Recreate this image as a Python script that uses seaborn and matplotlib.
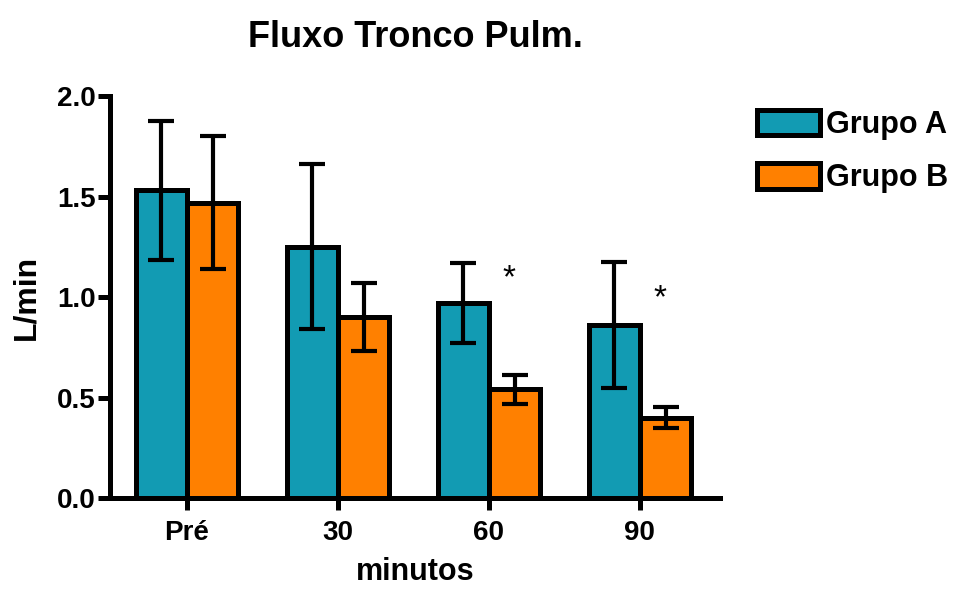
import numpy as np
import pandas as pd
import matplotlib
matplotlib.use("Agg")
import matplotlib.pyplot as plt
import seaborn as sns
from matplotlib.patches import Patch

# values
tempos = ["Pré", "30", "60", "90"]
grupos = ["Grupo A", "Grupo B"]
media_a = [1.53, 1.25, 0.97, 0.86]
media_b = [1.47, 0.90, 0.54, 0.40]
erro_a = [0.345, 0.41, 0.20, 0.315]
erro_b = [0.33, 0.17, 0.07, 0.053]
estrela_y = [None, None, 1.09, 0.99]  # where the "*" marks sit

cores = ["#129bb3", "#ff8000"]

df = pd.DataFrame({
    "minutos": tempos * 2,
    "grupo": [grupos[0]] * 4 + [grupos[1]] * 4,
    "valor": media_a + media_b,
})

sns.set_style("ticks")
plt.rcParams["font.family"] = ["Liberation Sans", "DejaVu Sans"]
plt.rcParams["font.weight"] = "bold"
for k in ["text.color", "axes.labelcolor", "xtick.color", "ytick.color", "axes.edgecolor"]:
    plt.rcParams[k] = "black"

fig = plt.figure(figsize=(9.65, 5.89), dpi=100)
ax = fig.add_axes([0.114, 0.1545, 0.632, 0.6825])

sns.barplot(data=df, x="minutos", y="valor", hue="grupo", order=tempos,
            hue_order=grupos, palette=cores, saturation=1, width=0.68,
            errorbar=None, edgecolor="black", linewidth=3.6, legend=False, ax=ax)

# error bars centred on each bar
erros = erro_a + erro_b
medias = media_a + media_b
for p, m, e in zip(ax.patches[:8], medias, erros):
    cx = p.get_x() + p.get_width() / 2
    ax.errorbar(cx, m, yerr=e, fmt="none", ecolor="black", elinewidth=3,
                capsize=9.5, capthick=3, zorder=5)

# significance marks over group B
for i, ys in enumerate(estrela_y):
    if ys is None:
        continue
    p = ax.patches[4 + i]
    ax.text(p.get_x() + p.get_width() / 2 - 0.04, ys, "*", ha="center",
            va="center", fontsize=24, fontweight="normal")

ax.set_ylim(0, 2.0)
ax.set_xlim(-0.51, 3.53)
ax.set_yticks([0.0, 0.5, 1.0, 1.5, 2.0])
ax.set_yticklabels(["0.0", "0.5", "1.0", "1.5", "2.0"])
for s in ["top", "right"]:
    ax.spines[s].set_visible(False)
for s in ["left", "bottom"]:
    ax.spines[s].set_linewidth(3.6)
ax.tick_params(axis="both", width=3.6, length=8.5, labelsize=20)
ax.tick_params(axis="y", pad=2)
ax.tick_params(axis="x", pad=7)

ax.set_xlabel("minutos", fontsize=22, fontweight="bold", labelpad=8)
ax.set_ylabel("L/min", fontsize=23, fontweight="bold", labelpad=11)
ax.set_title("Fluxo Tronco Pulm.", fontsize=26, fontweight="bold", pad=35)

handles = [Patch(facecolor=c, edgecolor="black", linewidth=3.6) for c in cores]
ax.legend(handles, grupos, loc="upper left", bbox_to_anchor=(1.061, 0.965),
          frameon=False, fontsize=22, handlelength=2.05, handleheight=0.9,
          handletextpad=0.2, labelspacing=0.75, borderpad=0, borderaxespad=0)

fig.savefig("out.png", dpi=100)
